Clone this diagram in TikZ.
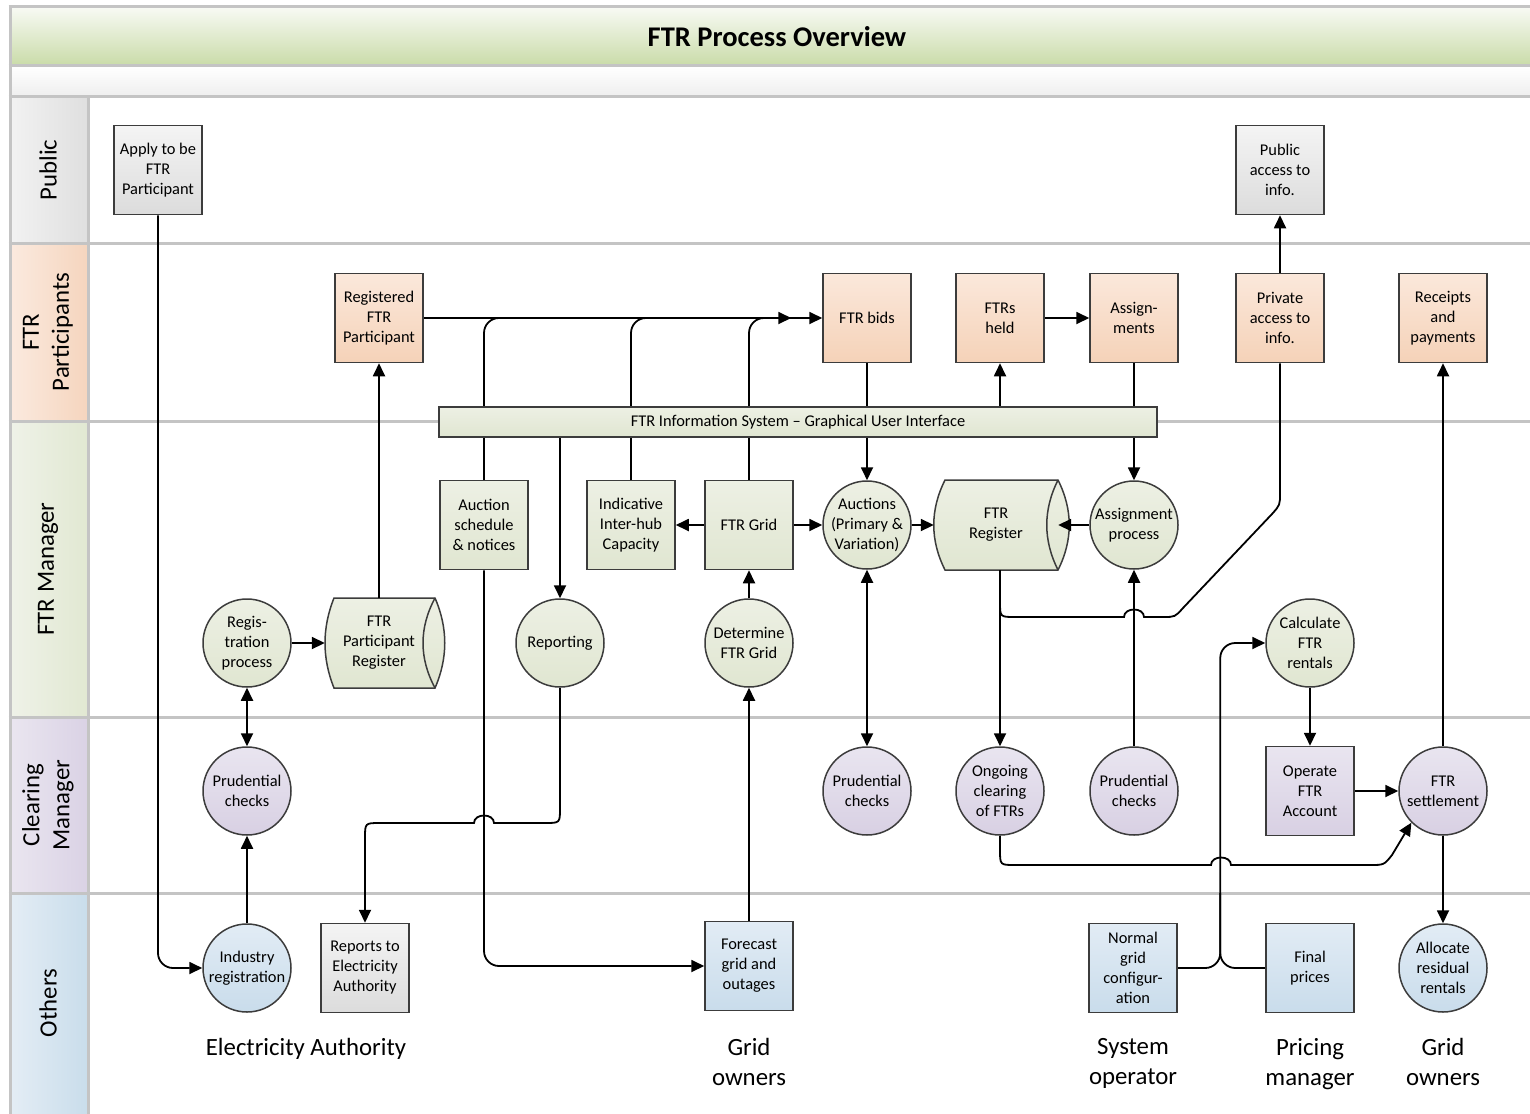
\documentclass[tikz,border=0pt]{standalone}
\usepackage{fontspec}
\setmainfont{Carlito}
\usetikzlibrary{arrows.meta,calc}
\pgfdeclarelayer{lanes}
\pgfdeclarelayer{edges}
\pgfsetlayers{lanes,edges,main}
\newcommand\ftrnode{\fontsize{16.4}{20}\selectfont}
\newcommand\ftrtitle{\fontsize{28.5}{34}\selectfont\bfseries}
\newcommand\ftrlane{\fontsize{24.8}{30}\selectfont}
\newcommand\ftrbig{\fontsize{24.8}{30}\selectfont}
\definecolor{edgegray}{HTML}{3C3C3C}
\definecolor{sepgray}{HTML}{C4C4C4}
\definecolor{gtop}{HTML}{F4F4F4}\definecolor{gbot}{HTML}{DCDCDC}
\definecolor{ptop}{HTML}{FBE8DB}\definecolor{pbot}{HTML}{F5D2B8}
\definecolor{etop}{HTML}{EDF0E4}\definecolor{ebot}{HTML}{E0E6D1}
\definecolor{vtop}{HTML}{E9E5F0}\definecolor{vbot}{HTML}{D8D0E3}
\definecolor{btop}{HTML}{E2ECF5}\definecolor{bbot}{HTML}{C9DCEB}
\definecolor{titletop}{HTML}{F8FAF4}\definecolor{titlebot}{HTML}{C9DBA8}
\definecolor{subbot}{HTML}{EEEEEE}
\definecolor{pubL}{HTML}{F2F2F2}\definecolor{pubR}{HTML}{DFDFDF}
\definecolor{parL}{HTML}{FBEADF}\definecolor{parR}{HTML}{F5D5BE}
\definecolor{manL}{HTML}{EFF2E8}\definecolor{manR}{HTML}{E1E8D2}
\definecolor{cleL}{HTML}{EAE6F0}\definecolor{cleR}{HTML}{DAD2E5}
\definecolor{othL}{HTML}{E4EDF5}\definecolor{othR}{HTML}{C9DDEB}
\begin{document}
\begin{tikzpicture}[x=1pt,y=-1pt,
  every node/.style={font=\ftrnode},
  base/.style={draw=edgegray, line width=1.5pt, align=center},
  box/.style={base, rectangle, minimum width=88pt, minimum height=89pt, inner sep=1pt},
  circ/.style={base, circle, minimum size=88pt, inner sep=-15pt},
  grayf/.style={top color=gtop, bottom color=gbot},
  peachf/.style={top color=ptop, bottom color=pbot},
  greenf/.style={top color=etop, bottom color=ebot},
  purplef/.style={top color=vtop, bottom color=vbot},
  bluef/.style={top color=btop, bottom color=bbot},
  stor/.style={rectangle, minimum height=90pt, inner sep=0pt, align=center},
  storline/.style={draw=edgegray, line width=1.5pt, top color=etop, bottom color=ebot},
  conn/.style={draw, line width=1.8pt, -{Triangle[length=13pt,width=12pt]}},
  plain/.style={draw, line width=1.8pt},
  both/.style={draw, line width=1.8pt, {Triangle[length=13pt,width=12pt]}-{Triangle[length=13pt,width=12pt]}},
  sep/.style={draw=sepgray, line width=3pt},
  lanelabel/.style={rotate=90, font=\ftrlane, align=center},
  biglabel/.style={font=\ftrbig, align=center, anchor=north}
]
\useasboundingbox (0,0) rectangle (1530,1113);

% ---------- lanes ----------
\begin{pgfonlayer}{lanes}
\fill[white] (0,0) rectangle (1530,1113);
\shade[top color=titletop, bottom color=titlebot] (10,7) rectangle (1532,66);
\shade[top color=white, bottom color=subbot] (10,66) rectangle (1532,97);
\shade[left color=pubL, right color=pubR] (10,97) rectangle (88,243);
\shade[left color=parL, right color=parR] (10,243) rectangle (88,421);
\shade[left color=manL, right color=manR] (10,421) rectangle (88,717);
\shade[left color=cleL, right color=cleR] (10,717) rectangle (88,893);
\shade[left color=othL, right color=othR] (10,893) rectangle (88,1115);
\foreach \yy in {7,66,97,243,421,717,893} {\draw[sep] (8.5,\yy) -- (1532,\yy);}
\draw[sep] (10,7) -- (10,1115);
\draw[sep] (88,97) -- (88,1115);
\end{pgfonlayer}

\node[font=\ftrtitle] (title) at (777,37) {FTR Process Overview};
\node[lanelabel] (lpub) at (48,170) {Public};
\node[lanelabel] (lpar) at (48,332) {FTR\\Participants};
\node[lanelabel] (lman) at (48,569) {FTR Manager};
\node[lanelabel] (lcle) at (48,805) {Clearing\\Manager};
\node[lanelabel] (loth) at (48,1003) {Others};

% ---------- nodes ----------
\node[box,grayf] (apply) at (158,170) {Apply to be\\FTR\\Participant};
\node[box,grayf] (pub) at (1280,170) {Public\\access to\\info.};
\node[box,peachf] (reg) at (379,318) {Registered\\FTR\\Participant};
\node[box,peachf] (bids) at (867,318) {FTR bids};
\node[box,peachf] (held) at (1000,318) {FTRs\\held};
\node[box,peachf] (assign) at (1134,318) {Assign-\\ments};
\node[box,peachf] (priv) at (1280,318) {Private\\access to\\info.};
\node[box,peachf] (rcpt) at (1443,318) {Receipts\\and\\payments};
\node[base,greenf,rectangle,minimum width=718pt,minimum height=30pt,inner sep=0pt] (gui) at (798,422) {FTR Information System -- Graphical User Interface};
\node[box,greenf] (auc) at (484,525) {Auction\\schedule\\\& notices};
\node[box,greenf] (ind) at (631,525) {Indicative\\Inter-hub\\Capacity};
\node[box,greenf] (grid) at (749,525) {FTR Grid};
\node[circ,greenf] (auct) at (867,525) {Auctions\\(Primary \&\\Variation)};
\node[stor, minimum width=124pt] (ftrreg) at (996,525) {FTR\\Register};
\node[circ,greenf] (assp) at (1134,525) {Assignment\\process};
\node[circ,greenf] (regp) at (247,643) {Regis-\\tration\\process};
\node[stor, minimum width=108pt] (preg) at (379,643) {FTR\\Participant\\Register};
\node[circ,greenf] (rep) at (560,643) {Reporting};
\node[circ,greenf] (det) at (749,643) {Determine\\FTR Grid};
\node[circ,greenf] (calc) at (1310,643) {Calculate\\FTR\\rentals};
\node[circ,purplef] (pc1) at (247,791) {Prudential\\checks};
\node[circ,purplef] (pc2) at (867,791) {Prudential\\checks};
\node[circ,purplef] (ong) at (1000,791) {Ongoing\\clearing\\of FTRs};
\node[circ,purplef] (pc3) at (1134,791) {Prudential\\checks};
\node[box,purplef] (opacc) at (1310,791) {Operate\\FTR\\Account};
\node[circ,purplef] (settle) at (1443,791) {FTR\\settlement};
\node[circ,bluef] (indreg) at (247,968) {Industry\\registration};
\node[box,grayf] (rpt) at (365,968) {Reports to\\Electricity\\Authority};
\node[box,bluef] (fcst) at (749,966) {Forecast\\grid and\\outages};
\node[box,bluef] (ngc) at (1133,968) {Normal\\grid\\configur-\\ation};
\node[box,bluef] (fp) at (1310,968) {Final\\prices};
\node[circ,bluef] (alloc) at (1443,968) {Allocate\\residual\\rentals};

\node[biglabel] (lea) at (306,1035) {Electricity Authority};
\node[biglabel] (lgo1) at (749,1035) {Grid\\owners};
\node[biglabel] (lso) at (1133,1035) {System\\operator};
\node[biglabel] (lpm) at (1310,1035) {Pricing\\manager};
\node[biglabel] (lgo2) at (1443,1035) {Grid\\owners};

% ---------- connectors (and storage outlines underneath them) ----------
\begin{pgfonlayer}{edges}
\path[storline] (945,480) .. controls (930,510) and (930,540) .. (945,570) -- (1058,570)
  .. controls (1073,540) and (1073,510) .. (1058,480) -- cycle;
\draw[draw=edgegray, line width=1.5pt] (1058,480) .. controls (1043,510) and (1043,540) .. (1058,570);
\path[storline] (334,598) .. controls (322,628) and (322,658) .. (334,688) -- (435,688)
  .. controls (448,658) and (448,628) .. (435,598) -- cycle;
\draw[draw=edgegray, line width=1.5pt] (435,598) .. controls (419,628) and (419,658) .. (435,688);

\draw[conn, rounded corners=15pt] (apply.south) |- (indreg.west);
\draw[conn] (indreg.north) -- (pc1.south);
\draw[both] (pc1.north) -- (regp.south);
\draw[conn] (regp.east) -- (preg.west);
\draw[conn] (preg.north) -- (reg.south);
\draw[conn] (reg.east) -- (bids.west);
\draw[plain, rounded corners=15pt] (auc.north) |- ($(auc.north |- reg.east)+(30,0)$);
\draw[plain, rounded corners=15pt] (ind.north) |- ($(ind.north |- reg.east)+(30,0)$);
\draw[conn, rounded corners=15pt] (grid.north) |- ($(bids.west)+(-31,0)$);
\draw[conn] (bids.south) -- (auct.north);
\draw[both] (auct.south) -- (pc2.north);
\draw[conn] (grid.west) -- (ind.east);
\draw[conn] (grid.east) -- (auct.west);
\draw[conn] (det.north) -- (grid.south);
\draw[conn] (fcst.north) -- (det.south);
\draw[conn, rounded corners=15pt] (auc.south) |- (fcst.west);
\draw[conn] (rep.north |- gui.south) -- (rep.north);
\draw[conn] (rep.south) -- (560,808) .. controls (560,823) .. (545,823) -- (494,823)
  .. controls (494,813) and (474,813) .. (474,823) -- (380,823)
  .. controls (365,823) .. (365,838) -- (rpt.north);
\draw[conn] (auct.east) -- (ftrreg.west);
\draw[conn] (ong.north |- ftrreg.south) -- (ong.north);
\draw[plain] (ong.north |- ftrreg.south) -- (1000,602) .. controls (1000,617) .. (1015,617) -- (1124,617)
  .. controls (1124,607) and (1144,607) .. (1144,617) -- (1163,617)
  .. controls (1175,617) .. (1183,608) -- (1272,514) .. controls (1280,505) .. (1280,493) -- (priv.south);
\draw[conn] (priv.north) -- (pub.south);
\draw[conn] (held.south |- gui.north) -- (held.south);
\draw[conn] (held.east) -- (assign.west);
\draw[conn] (assign.south) -- (assp.north);
\draw[conn] (assp.west) -- (ftrreg.east);
\draw[conn] (pc3.north) -- (assp.south);
\draw[conn] (calc.south) -- (opacc.north);
\draw[conn] (opacc.east) -- (settle.west);
\draw[conn] (settle.north) -- (rcpt.south);
\draw[conn] (settle.south) -- (alloc.north);
\draw[conn, rounded corners=15pt] (ngc.east) -| ($(calc.west)+(-45,0)$) -- (calc.west);
\draw[plain, rounded corners=15pt] (fp.west) -| ($(calc.west)+(-45,250)$);
\draw[conn] (ong.south) -- (1000,850) .. controls (1000,865) .. (1015,865) -- (1211,865)
  .. controls (1211,855) and (1231,855) .. (1231,865) -- (1370,865)
  .. controls (1384,865) .. (1392,855) -- (settle.south west);
\end{pgfonlayer}
\end{tikzpicture}
\end{document}
